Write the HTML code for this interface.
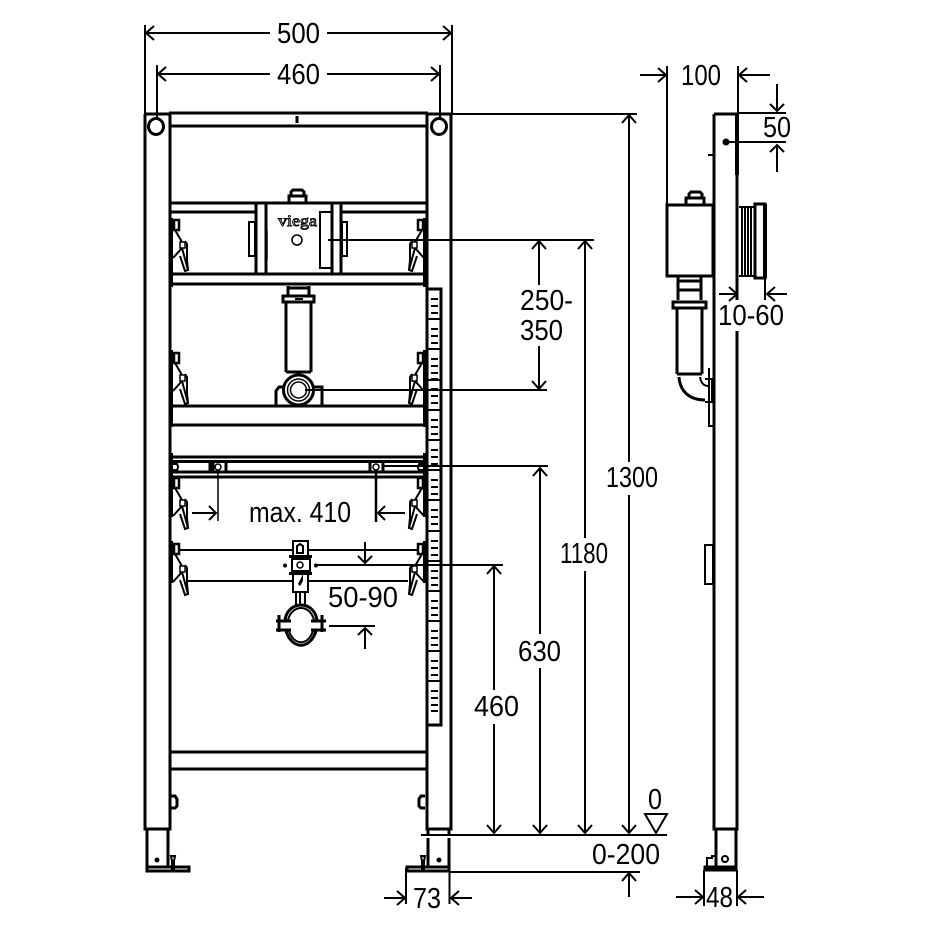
<!DOCTYPE html>
<html><head><meta charset="utf-8"><style>
html,body{margin:0;padding:0;background:#fff}
svg{display:block}
text{font-family:"Liberation Sans",sans-serif;font-size:29px;fill:#000}
.k{stroke:#000;fill:none;stroke-width:2}
.t{stroke:#000;fill:none;stroke-width:3}
.f{stroke:#000;fill:none;stroke-width:1.5}
.w{stroke:#000;fill:#fff;stroke-width:2}
</style></head><body>
<svg width="934" height="934" viewBox="0 0 934 934" xmlns="http://www.w3.org/2000/svg">
<defs>
<g id="clip" fill="none" stroke="#000">
<rect x="174" y="2" width="5" height="10" stroke-width="2.500"/>
<path d="M175 12 L182 24 M182 30 L173 40 M182 30 L188 52 L185 53 L180 38" stroke-width="2"/>
<path d="M185 23 L187 26 V42 L188 52" stroke-width="2"/>
<rect x="180" y="24" width="5" height="6" stroke-width="1.500"/>
</g>
</defs>

<!-- left and right posts -->
<path class="t" d="M145 114 V829 H170 V114 M145 114 H170"/>
<path class="t" d="M427 114 V829 H451 V114 M427 114 H451"/>
<ellipse cx="156" cy="126.500" rx="7.500" ry="8" fill="#fff" stroke="#000" stroke-width="3"/>
<ellipse cx="439" cy="126.500" rx="7.500" ry="8" fill="#fff" stroke="#000" stroke-width="3"/>
<!-- top rails -->
<path class="t" d="M169 113 H428 M169 126 H428"/>
<path class="t" d="M297 116 V123"/>
<!-- feet -->
<path class="t" d="M147 829 V868 M168 829 V868"/>
<rect class="t" x="147" y="867" width="42" height="4"/>
<circle cx="157" cy="860" r="2.500" fill="#000"/>
<path class="k" d="M171 856 H175 L174 861 V871 H172 V861 Z"/>
<path class="t" d="M428 838 V868 M449 838 V868 M428 829 V834 M449 829 V834"/>
<rect class="t" x="407" y="867" width="42" height="4"/>
<circle cx="439" cy="860" r="2.500" fill="#000"/>
<path class="k" d="M421 856 H425 L424 861 V871 H422 V861 Z"/>
<!-- bolts -->
<path class="t" d="M171 796 H175 L177 799 V806 L175 808 H171 M425 796 H421 L419 799 V806 L421 808 H425"/>
<!-- bottom rails -->
<path class="t" d="M169 752 H428 M169 769 H428"/>
<!-- upper cross rail -->
<path class="t" d="M170 203 H256 M170 212 H256 M340 203 H427 M340 212 H427"/>
<path class="t" d="M172 274 H424 M172 284 H424"/>
<path class="t" d="M256 203 V274 M266 203 V274 M332 203 V274 M341 203 V274 M256 203 H341"/>
<!-- viega nut and box -->
<rect class="t" x="289" y="196" width="17" height="7"/>
<path class="t" d="M291 196 V192 L293 190 H302 L304 192 V196"/>
<path class="k" d="M249 222 H255 V256 H249 Z M342 222 H347 V256 H342 Z" stroke-width="2.500"/>
<path class="f" d="M267 230 V260"/>
<rect class="k" x="320" y="212" width="12" height="56"/>
<text x="278" y="226" style="font-size:16px;fill:#fff;stroke:#000;stroke-width:.9px;font-family:'Liberation Serif',serif" textLength="39" lengthAdjust="spacingAndGlyphs">viega</text>
<circle class="f" cx="297" cy="240" r="5"/>
<!-- pipe -->
<path class="t" d="M288 286 V295 M309 286 V295 M288 288 H309"/>
<rect class="t" x="283" y="296" width="31" height="6"/>
<path class="t" d="M286 302 V372 M311 302 V372 M286 372 H311"/>
<path class="k" d="M295 299 H303" />
<path class="t" d="M276 406 V391 L279 387 H284 M322 406 V387 H314"/>
<circle cx="298.500" cy="390" r="15" fill="#fff" stroke="#000" stroke-width="3"/>
<circle class="f" cx="298.500" cy="390" r="11"/>
<circle class="f" cx="298.500" cy="390" r="8"/>
<!-- lower rails of upper section -->
<path class="t" d="M170 406 H426 M170 425 H426"/>
<!-- mid rails -->
<path class="t" d="M172 457 H424 M172 461.500 H424 M172 472 H424 M172 477 H424"/>
<path class="t" d="M210 461.500 V472 M226 461.500 V472 M213 461.500 V472 M370 461.500 V472 M383 461.500 V472"/>
<circle class="f" cx="218" cy="467" r="3"/>
<circle class="f" cx="376" cy="467" r="3"/>
<path class="k" d="M173 464 H177 Q179 467 177 470 H173 M423 464 H419 Q417 467 419 470 H423"/>
<!-- plates -->
<path d="M171.500 218 V287 M171.500 350 V427 M171.500 453 V517 M171.500 541 V583 M424.500 218 V287 M424.500 350 V427 M424.500 453 V517 M424.500 541 V583" class="t"/>
<!-- clips -->
<use href="#clip" x="0" y="218"/>
<use href="#clip" x="0" y="218" transform="translate(597,0) scale(-1,1)"/>
<use href="#clip" x="0" y="351"/>
<use href="#clip" x="0" y="351" transform="translate(597,0) scale(-1,1)"/>
<use href="#clip" x="0" y="476"/>
<use href="#clip" x="0" y="476" transform="translate(597,0) scale(-1,1)"/>
<use href="#clip" x="0" y="542"/>
<use href="#clip" x="0" y="542" transform="translate(597,0) scale(-1,1)"/>
<!-- lower bracket rails -->
<path class="k" d="M179 550 H418 M187 581 H408"/>
<rect class="w" x="293" y="541" width="15" height="51" stroke-width="3"/>
<path class="k" d="M297 553 V546 L300 544 L303 546 V553 Z"/>
<path d="M298 584 L303 574 V581 L300 586 Z" fill="#000"/>
<rect class="w" x="292" y="559" width="18" height="12" stroke-width="2.500"/>
<circle class="f" cx="300" cy="565" r="3"/>
<circle cx="285" cy="565.500" r="2" fill="#000"/>
<circle cx="316" cy="565.500" r="2" fill="#000"/>
<path class="t" d="M289 556.500 H312 M289 573.500 H312"/>
<path class="k" d="M296 592 V606 M305 592 V606 M300 592 V606"/>
<!-- pipe clamp -->
<path class="t" d="M285 620 C288 600 314 600 317 620"/>
<path class="t" d="M286 631 C292 650 310 650 316 631"/>
<path class="k" d="M288 620 C292 604 310 604 314 620 M289 631 C294 646 308 646 313 631"/>
<path class="t" d="M276 621 H291 M276 630 H291 M311 621 H326 M311 630 H326 M279 615 V632 M322 615 V632"/>
<!-- scale -->
<rect class="t" x="427" y="289" width="14" height="436"/>
<path d="M431 299h7M431 306h7M431 313h7M431 319h7M431 329h7M431 336h7M431 343h7M431 349h7M431 359h7M431 366h7M431 373h7M431 379h7M431 389h7M431 396h7M431 403h7M431 410h7M431 420h7M431 427h7M431 434h7M431 440h7M431 450h7M431 457h7M431 464h7M431 470h7M431 480h7M431 487h7M431 494h7M431 500h7M431 510h7M431 517h7M431 524h7M431 531h7M431 541h7M431 548h7M431 555h7M431 561h7M431 571h7M431 578h7M431 585h7M431 591h7M431 601h7M431 608h7M431 615h7M431 621h7M431 631h7M431 638h7M431 645h7M431 651h7M431 661h7M431 668h7M431 675h7M431 681h7M431 691h7M431 698h7M431 705h7M431 711h7" stroke="#000" stroke-width="2"/>
<path class="k" d="M427 319H440M427 349H440M427 380H440M427 410H440M427 440H440M427 470H440M427 500H440M427 531H440M427 561H440M427 591H440M427 621H440M427 651H440M427 681H440"/>

<!-- dimensions -->
<g class="k">
<path d="M145 25 V114 M452 25 V114"/>
<path d="M146 33 H270 M327 33 H451"/>
<path d="M154 26 L146 33 L154 40 M443 26 L451 33 L443 40"/>
<path d="M157 65 V118 M440 65 V118"/>
<path d="M158 74 H270 M327 74 H439"/>
<path d="M166 67 L158 74 L166 81 M431 67 L439 74 L431 81"/>
<path d="M452 114 H637"/>
<path d="M629 115 V462 M629 495 V833"/>
<path d="M622 123 L629 115 L636 123 M622 825 L629 833 L636 825"/>
<path d="M328 240 H594"/>
<path d="M585 241 V538 M585 571 V833"/>
<path d="M578 249 L585 241 L592 249 M578 825 L585 833 L592 825"/>
<path d="M539 241 V285 M539 346 V389"/>
<path d="M532 249 L539 241 L546 249 M532 381 L539 389 L546 381"/>
<path d="M305 390 H547"/>
<path d="M383 466 H548"/>
<path d="M540 468 V634 M540 668 V833"/>
<path d="M533 476 L540 468 L547 476 M533 825 L540 833 L547 825"/>
<path d="M316 565 H503"/>
<path d="M494 566 V690 M494 724 V833"/>
<path d="M487 574 L494 566 L501 574 M487 825 L494 833 L501 825"/>
<path d="M421 835 H667"/>
<path d="M450 872 H640"/>
<path d="M629 873 V897 M622 881 L629 873 L636 881"/>
<path d="M645 814 H667 L656 833 Z"/>
<!-- max 410 -->
<path d="M218 470 V521" stroke-width="1.500"/>
<path d="M376 470 V522" stroke-width="2.500"/>
<path d="M192 513 H216 M209 506 L216 513 L209 520 M405 513 H378 M385 506 L378 513 L385 520"/>
<!-- 50-90 -->
<path d="M365 542 V563 M358 556 L365 563 L372 556"/>
<path d="M329 626 H375 M365 628 V649 M358 635 L365 628 L372 635"/>
<!-- 73 -->
<path d="M406 868 V904 M449.500 838 V904"/>
<path d="M384 898 H404 M397 891 L405 898 L397 905 M472 898 H452 M459 891 L451 898 L459 905"/>
<!-- 48 -->
<path d="M704 870 V906 M737 870 V906"/>
<path d="M676 897 H702 M695 890 L703 897 L695 904 M764 897 H739 M746 890 L738 897 L746 904"/>
<!-- 100 -->
<path d="M667 66 V205 M738 66 V114"/>
<path d="M640 75 H665 M658 68 L666 75 L658 82 M770 75 H740 M747 68 L739 75 L747 82"/>
<!-- 50 -->
<path d="M738 113 H786 M727 142 H786"/>
<path d="M777 84 V111 M770 104 L777 111 L784 104 M777 172 V145 M770 152 L777 145 L784 152"/>
<!-- 10-60 -->
<path d="M765 278 V300"/>
<path d="M719 294 H736 M729 287 L737 294 L729 301 M787 294 H768 M775 287 L767 294 L775 301"/>
</g>
<!-- side view -->
<path class="t" d="M714 114 V829 H737 V331 M737 300 V114 M714 114 H737"/>
<path d="M737 114 V175" stroke="#000" stroke-width="4" fill="none"/>
<circle cx="726" cy="142" r="3.500" fill="#000"/>
<path class="k" d="M708 155 H713"/>
<rect class="t" x="667" y="205" width="46" height="71"/>
<path class="t" d="M686 205 V198 H704 V205 M689 198 V194 L691 192 H700 L702 194 V198"/>
<path class="k" d="M739 207 H755 V276 H739 M742 208 V275 M745 208 V275 M748 208 V275 M751 208 V275"/>
<path class="t" d="M755 204 H765 V278 H755 Z"/>
<path d="M765 204 V278" stroke="#000" stroke-width="4" fill="none"/>
<path class="t" d="M678 277 V300 M701 277 V300 M678 281 H701 M678 290 H701"/>
<rect class="t" x="673" y="302" width="33" height="6"/>
<path class="t" d="M677 308 V374 M702 308 V374 M677 374 H702"/>
<path class="t" d="M679 377 C680 392 690 400 705 400"/>
<path class="k" d="M700 377 C701 383 704 386 708 386"/>
<path class="k" d="M705 379 H712 V402 H705 M709 368 V426 H713"/>
<path class="k" d="M705 545 H713 V584 H705 Z"/>
<path class="t" d="M716 829 V868 M736 829 V868"/>
<rect class="t" x="705" y="867" width="31" height="3"/>
<circle class="k" cx="725" cy="859" r="3"/>
<path class="k" d="M707 867 V858 H712 V856 H716 V867"/>

<!-- labels -->
<text x="277" y="43" textLength="43" lengthAdjust="spacingAndGlyphs">500</text>
<text x="277" y="84" textLength="43" lengthAdjust="spacingAndGlyphs">460</text>
<text x="681" y="85" textLength="40" lengthAdjust="spacingAndGlyphs">100</text>
<text x="763" y="137" textLength="28" lengthAdjust="spacingAndGlyphs">50</text>
<text x="520" y="310" textLength="53" lengthAdjust="spacingAndGlyphs">250-</text>
<text x="520" y="340" textLength="43" lengthAdjust="spacingAndGlyphs">350</text>
<text x="606" y="487" textLength="52" lengthAdjust="spacingAndGlyphs">1300</text>
<text x="560" y="563" textLength="48" lengthAdjust="spacingAndGlyphs">1180</text>
<text x="249" y="522" textLength="102" lengthAdjust="spacingAndGlyphs">max. 410</text>
<text x="328" y="607" textLength="70" lengthAdjust="spacingAndGlyphs">50-90</text>
<text x="518" y="661" textLength="43" lengthAdjust="spacingAndGlyphs">630</text>
<text x="474" y="716" textLength="45" lengthAdjust="spacingAndGlyphs">460</text>
<text x="718" y="325" textLength="66" lengthAdjust="spacingAndGlyphs">10-60</text>
<text x="648" y="809" textLength="14" lengthAdjust="spacingAndGlyphs">0</text>
<text x="592" y="864" textLength="68" lengthAdjust="spacingAndGlyphs">0-200</text>
<text x="413" y="908" textLength="28" lengthAdjust="spacingAndGlyphs">73</text>
<text x="706" y="907" textLength="27" lengthAdjust="spacingAndGlyphs">48</text>
</svg>
</body></html>
